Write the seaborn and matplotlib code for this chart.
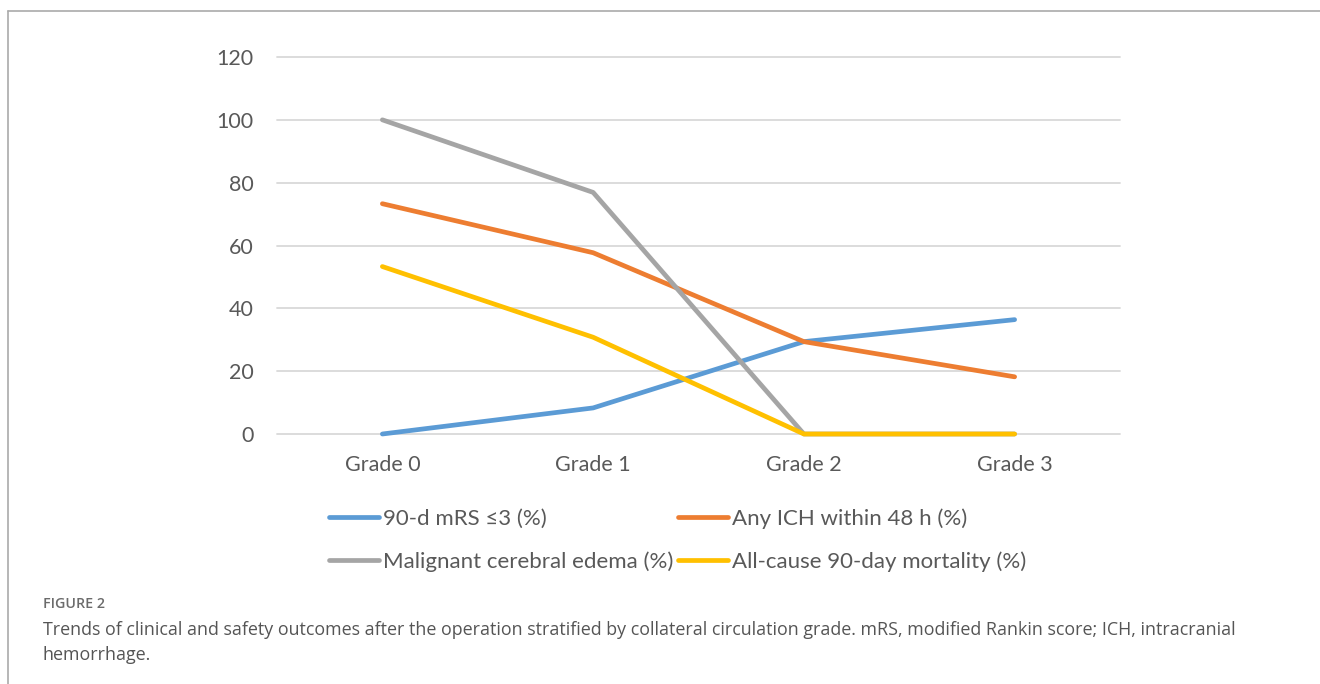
import matplotlib
matplotlib.use("Agg")
import matplotlib.pyplot as plt
import seaborn as sns
import pandas as pd
from matplotlib.lines import Line2D

grades = ["Grade 0", "Grade 1", "Grade 2", "Grade 3"]
mrs_good = [0, 8.3, 29.4, 36.4]
any_ich = [73.3, 57.7, 29.4, 18.2]
edema = [100, 76.9, 0, 0]
mortality = [53.3, 30.8, 0, 0]
series_names = ["90-d mRS \u22643 (%)", "Any ICH within 48 h (%)",
                "Malignant cerebral edema (%)", "All-cause 90-day mortality (%)"]
colors = ["#5B9BD5", "#ED7D31", "#A5A5A5", "#FFC000"]
yticks = [0, 20, 40, 60, 80, 100, 120]

rows = []
for name, vals in zip(series_names, [mrs_good, any_ich, edema, mortality]):
    for i, (g, v) in enumerate(zip(grades, vals)):
        rows.append({"grade": g, "x": i, "value": v, "series": name})
df = pd.DataFrame(rows)

sns.set_theme(style="white")
plt.rcParams["font.family"] = ["Lato", "DejaVu Sans"]

fig = plt.figure(figsize=(13.2, 6.84), dpi=100)
ax = fig.add_axes([277/1320, 1-434/684, (1120-277)/1320, (434-57)/684])

# gridlines
for t in yticks:
    ax.axhline(t, color="#D9D9D9", lw=1.3, zorder=0, clip_on=False)

sns.lineplot(data=df, x="x", y="value", hue="series", hue_order=series_names,
             palette=colors, linewidth=3.4, ax=ax, legend=False, sort=False,
             estimator=None)
for ln in ax.get_lines():
    if ln.get_linewidth() > 2:
        ln.set_clip_on(False)
        ln.set_solid_capstyle("round")
        ln.set_solid_joinstyle("round")

ax.set_xlim(-0.5, 3.5)
ax.set_ylim(0, 120)
ax.set_xticks(range(len(grades)))
ax.set_xticklabels(grades)
ax.set_yticks(yticks)
ax.set_yticklabels([str(t) for t in yticks])
ax.tick_params(axis="both", length=0, labelsize=15.5, colors="#595959")
ax.tick_params(axis="y", pad=17)
ax.tick_params(axis="x", pad=15)
ax.set_xlabel("")
ax.set_ylabel("")
for s in ax.spines.values():
    s.set_visible(False)

# legend in row-major order (matplotlib fills columns first)
order = [0, 2, 1, 3]
handles = [Line2D([0], [0], color=colors[i], lw=3.4, solid_capstyle="round") for i in order]
labels = [series_names[i] for i in order]
leg = fig.legend(handles, labels, loc="upper left", ncol=2,
                 bbox_to_anchor=(329/1320, 1-508/684), frameon=False,
                 fontsize=16.0, handlelength=2.25, handletextpad=0.2,
                 columnspacing=0.18, labelspacing=1.02, borderaxespad=0,
                 borderpad=0)
for t in leg.get_texts():
    t.set_color("#595959")

# figure frame (top and left)
fig.add_artist(Line2D([8/1320, 1.0], [1-11/684, 1-11/684], transform=fig.transFigure,
                      color="#AAAAAA", lw=1.2))
fig.add_artist(Line2D([8/1320, 8/1320], [1-11/684, 0], transform=fig.transFigure,
                      color="#AAAAAA", lw=1.2))

fig.text(43/1320, 1-604/684, "FIGURE 2", family=["Open Sans", "DejaVu Sans"],
         fontsize=10.3, fontweight="semibold", color="#6B6B6B", va="center", ha="left")
fig.text(43/1320, 1-642.5/684,
         "Trends of clinical and safety outcomes after the operation stratified by collateral circulation grade. mRS, modified Rankin score; ICH, intracranial\nhemorrhage.",
         family=["Open Sans", "DejaVu Sans"], fontsize=12.9, color="#555555",
         va="center", ha="left", linespacing=1.55)

fig.savefig("out.png", dpi=100)
